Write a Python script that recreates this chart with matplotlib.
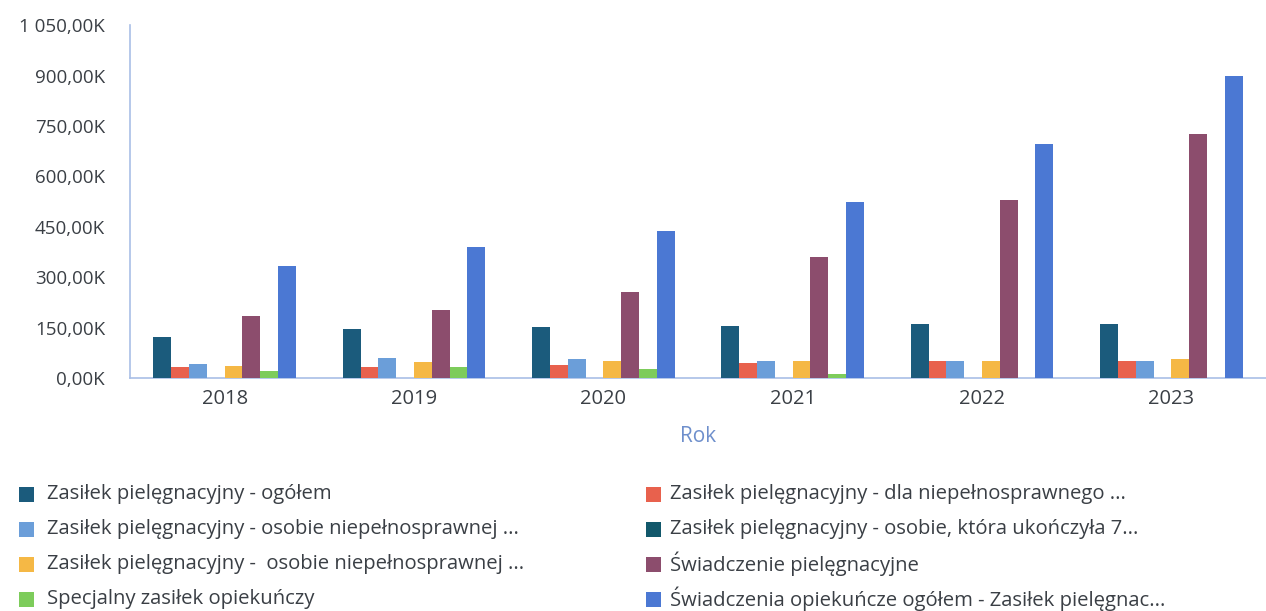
import numpy as np
import matplotlib.pyplot as plt
from matplotlib.patches import Rectangle
from matplotlib.ticker import FuncFormatter

years = ['2018', '2019', '2020', '2021', '2022', '2023']

series_names = [
    'Zasiłek pielęgnacyjny - ogółem',
    'Zasiłek pielęgnacyjny - dla niepełnosprawnego ...',
    'Zasiłek pielęgnacyjny - osobie niepełnosprawnej ...',
    'Zasiłek pielęgnacyjny - osobie, która ukończyła 7...',
    'Zasiłek pielęgnacyjny -  osobie niepełnosprawnej ...',
    'Świadczenie pielęgnacyjne',
    'Specjalny zasiłek opiekuńczy',
    'Świadczenia opiekuńcze ogółem - Zasiłek pielęgnac...',
]

# values in thousands
zp_ogolem = [124, 147, 153, 155, 160, 161]
zp_dla_niepelnosprawnego = [33, 33, 40, 45, 50, 51]
zp_osobie_niepelnosprawnej = [43, 61, 56, 51, 50, 51]
zp_ukonczyla_75 = [0, 0, 0, 0, 0, 0]
zp_osobie_niepelnosprawnej_2 = [37, 49, 50, 51, 50, 58]
swiadczenie_pielegnacyjne = [185, 203, 256, 360, 530, 726]
specjalny_zasilek = [22, 34, 28, 12, 0, 0]
swiadczenia_ogolem = [334, 391, 439, 524, 695, 898]

values = [zp_ogolem, zp_dla_niepelnosprawnego, zp_osobie_niepelnosprawnej, zp_ukonczyla_75,
          zp_osobie_niepelnosprawnej_2, swiadczenie_pielegnacyjne, specjalny_zasilek, swiadczenia_ogolem]

colors = ['#1b5b7c', '#e8614d', '#6b9ed9', '#12586b', '#f5b845', '#8c4d6d', '#7dcc5b', '#4b78d3']

plt.rcParams['font.family'] = ['Open Sans', 'DejaVu Sans']
text_col = '#3a3f45'
axis_col = '#a9bfe6'
W, H = 1266, 611

fig = plt.figure(figsize=(W / 100, H / 100), dpi=100)
ax = fig.add_axes([0.1027, 0.381, 0.8973, 0.578])

x = np.arange(len(years))
n = len(values)
w = 0.094
for i, (vals, col) in enumerate(zip(values, colors)):
    offs = (i - (n - 1) / 2) * w
    ax.bar(x + offs, vals, width=w, color=col, edgecolor='none', zorder=3)

ax.set_xlim(-0.5, len(years) - 0.5)
ax.set_ylim(0, 1050)
ax.set_yticks(np.arange(0, 1051, 150))


def fmt_k(v, pos):
    s = f'{v:,.2f}'.replace(',', ' ').replace('.', ',')
    return s + 'K'


ax.yaxis.set_major_formatter(FuncFormatter(fmt_k))
ax.set_xticks(x)
ax.set_xticklabels(years)
ax.tick_params(axis='both', length=0, colors=text_col)
ax.tick_params(axis='x', pad=8, labelsize=14.5)
ax.tick_params(axis='y', pad=18, labelsize=13.5)

for s in ['top', 'right']:
    ax.spines[s].set_visible(False)
for s in ['left', 'bottom']:
    ax.spines[s].set_color(axis_col)
    ax.spines[s].set_linewidth(1.2)

ax.set_xlabel('Rok', fontsize=15, color='#6e8fcc', labelpad=12)

# legend: two columns, row-major order
row_y = [494, 529, 564, 599]
col_x = [19, 646]
text_x = [47, 670]
for i, name in enumerate(series_names):
    c = i % 2
    cy = row_y[i // 2]
    fig.add_artist(Rectangle((col_x[c] / W, 1 - (cy + 7.5) / H), 15 / W, 15 / H,
                             transform=fig.transFigure, facecolor=colors[i], edgecolor='none'))
    fig.text(text_x[c] / W, 1 - cy / H, name, fontsize=14.6, color=text_col, va='center', ha='left')

fig.savefig('out.png', dpi=100)
